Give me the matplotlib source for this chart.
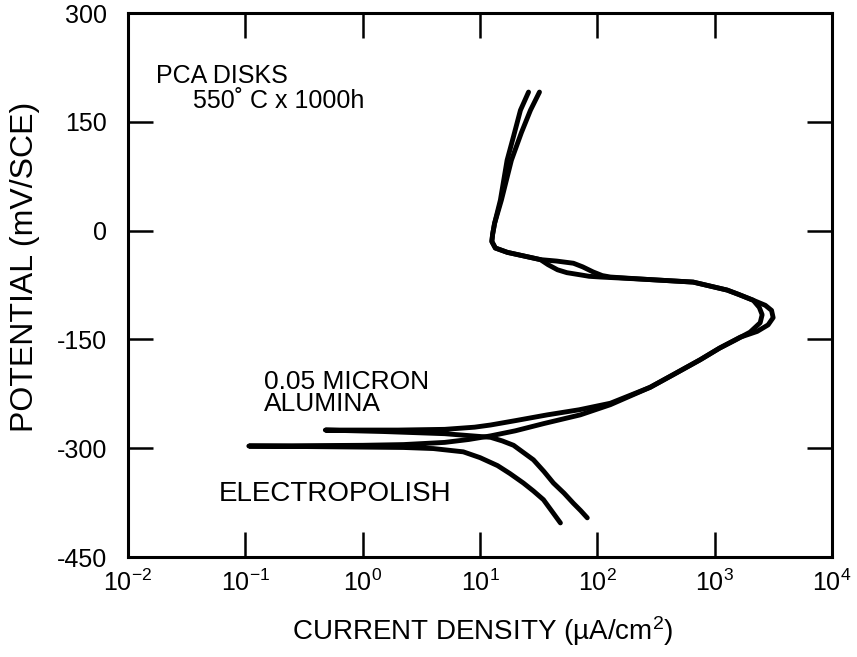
import numpy as np
import matplotlib
matplotlib.use("Agg")
import matplotlib.pyplot as plt

plt.rcParams['font.family'] = ['Liberation Sans', 'DejaVu Sans']
plt.rcParams['mathtext.fontset'] = 'custom'
plt.rcParams['mathtext.rm'] = 'Liberation Sans'
plt.rcParams['mathtext.it'] = 'Liberation Sans'

# polarization curves, current density (uA/cm2) vs potential (mV/SCE)
# electropolished disk
ep_cur = [48.4, 41, 34.7, 28.5, 23.4, 18, 14.1, 10, 7.2, 4.0, 2.23, 0.107,
          1.0, 2.23, 5.0, 8.0, 12.3, 20, 35, 71.6, 129,
          282, 450, 753, 1100, 1648, 2300, 2850, 3147, 3050, 2700, 2127, 1600, 1277,
          656, 246, 129, 110, 92, 75, 62.5, 45, 32.7,
          17.1, 13.5, 12.6, 12.8, 13.3, 15.2, 18.5, 22.5, 26.9, 32.1]
ep_pot = [-403, -387, -371, -359, -348, -335, -324, -313, -305, -300.5, -299, -297,
          -296, -295, -292, -288, -283, -276, -266, -254, -240,
          -216, -198, -178, -162, -147, -139, -130, -120, -110, -103, -96, -88, -82,
          -71, -67, -64, -62, -57, -50, -45, -42, -40,
          -30, -24, -15, -5, 10, 42, 97, 135, 166, 191]

# 0.05 micron alumina polished disk
al_cur = [82, 72, 62.5, 52, 42.2, 35, 28.5, 23, 19.3, 15.5, 12.3, 5.0, 1.5, 0.48,
          2.0, 5.0, 9.0, 12.3, 20, 37.5, 70, 129,
          282, 450, 753, 1100, 1494, 2000, 2440, 2536, 2400, 2127, 1600, 1277,
          656, 246, 106, 85, 71.6, 55, 45.7, 38, 32.7,
          17.1, 13.5, 12.6, 12.8, 13.3, 14.9, 17.0, 19.3, 22.1, 25.9]
al_pot = [-396, -386, -376, -362, -348, -332, -316, -305, -296, -290, -285, -280, -277, -275,
          -275, -274, -271, -268, -262, -254, -247, -238,
          -216, -198, -178, -162, -151, -140, -127, -116, -106, -96, -88, -82,
          -71, -67, -64, -63, -61, -58, -54, -47, -40,
          -30, -24, -15, -5, 10, 42, 97, 130, 166, 191]

xticks = [1e-2, 1e-1, 1e0, 1e1, 1e2, 1e3, 1e4]
yticks = [-450, -300, -150, 0, 150, 300]

fig = plt.figure(figsize=(8.57, 6.57), dpi=100)
ax = fig.add_axes([0.1494, 0.1522, 0.8215, 0.828])

for cur, pot in [(ep_cur, ep_pot), (al_cur, al_pot)]:
    ax.plot(cur, pot, color='black', lw=3.5, solid_joinstyle='round', solid_capstyle='round')

ax.set_xscale('log')
ax.set_xlim(1e-2, 1e4)
ax.set_ylim(-450, 300)
ax.set_xticks(xticks)
ax.set_xticklabels(['10$^{\\mathregular{%d}}$' % int(np.log10(v)) for v in xticks])
ax.set_yticks(yticks)
ax.set_yticklabels([str(v) for v in yticks])
ax.minorticks_off()
ax.tick_params(which='major', direction='in', length=18, width=1.8,
               top=True, right=True, labelsize=18)
ax.tick_params(axis='y', pad=15)
ax.tick_params(axis='x', pad=9)
for s in ax.spines.values():
    s.set_linewidth(2.2)

ax.set_xlabel('CURRENT DENSITY (µA/cm$^2$)', fontsize=20)
ax.set_ylabel('POTENTIAL (mV/SCE)', fontsize=23)
ax.xaxis.set_label_coords(0.503, -0.105)
ax.yaxis.set_label_coords(-0.125, 0.533)

ax.text(0.0174, 213, 'PCA DISKS', fontsize=18, va='center', ha='left')
ax.text(0.036, 179, '550˚ C x 1000h', fontsize=18, va='center', ha='left')
ax.text(0.144, -209, '0.05 MICRON', fontsize=19, va='center', ha='left')
ax.text(0.144, -239, 'ALUMINA', fontsize=19, va='center', ha='left')
ax.text(0.0594, -363, 'ELECTROPOLISH', fontsize=20, va='center', ha='left')

fig.savefig('out.png', dpi=100)
